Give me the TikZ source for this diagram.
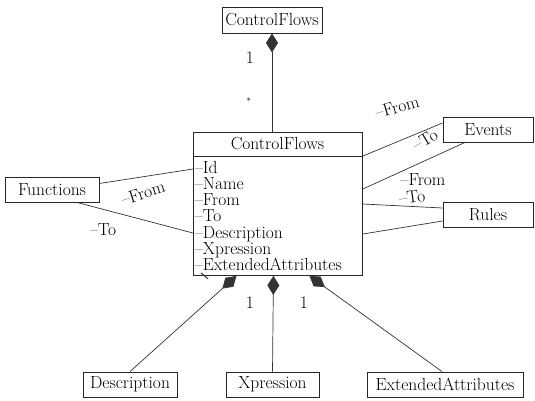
\documentclass[tikz,border=0pt]{standalone}
\usetikzlibrary{arrows.meta,calc}
\begin{document}
\begin{tikzpicture}[x=1pt,y=-1pt,
  every node/.style={font=\fontsize{17.5}{16.2}\selectfont},
  box/.style={draw=black!85,line width=0.9pt,inner sep=0pt,minimum height=25pt},
  link/.style={draw=black!80,line width=0.7pt},
  comp/.style={link,{Diamond[length=19pt,width=12pt]}-},
  lbl/.style={inner sep=0pt}]
\useasboundingbox (0,0) rectangle (535,401);

% whole / part boxes
\node[box,minimum width=100pt,minimum height=26pt] (top) at (272,20) {ControlFlows};
\node[box,minimum width=94pt] (fn) at (52,189.5) {Functions};
\node[box,minimum width=90pt] (ev) at (488,129.5) {Events};
\node[box,minimum width=90pt] (ru) at (488,214.5) {Rules};
\node[box,minimum width=94pt] (desc) at (130,384.5) {Description};
\node[box,minimum width=93pt] (xp) at (272.5,384.5) {Xpression};
\node[box,minimum width=156pt] (ea) at (445,384.5) {ExtendedAttributes};

% class with header and attribute compartment
\node[box,minimum width=169pt,minimum height=24pt] (hdr) at (277.5,144) {ControlFlows};
\node[box,anchor=north west,minimum width=169pt,minimum height=119pt,
      text width=166pt,inner xsep=1.5pt,inner ysep=1pt,align=left]
  (attr) at (193,156)
  {\textendash Id\\\textendash Name\\\textendash From\\\textendash To\\
   \textendash Description\\\textendash Xpression\\\textendash ExtendedAttributes};

% composition to the outer ControlFlows
\draw[comp] (top.south) -- (top.south |- hdr.north);
\node[lbl] (m1) at (250,58) {1};
\node[lbl,font=\small] (m2) at (249,101) {*};

% Functions
\draw[link] ($(fn.east)+(0,-6)$) -- ($(attr.north west)+(0,13)$);
\draw[link] ($(fn.south)+(25,0)$) -- ($(attr.north west)+(0,77)$);
\node[lbl,rotate=18] (fnfrom) at (143,193) {\textendash From};
\node[lbl] (fnto) at (103,230) {\textendash To};

% Events
\draw[link] ($(ev.west)+(0,-6.5)$) -- (attr.north east);
\draw[link] ($(ev.south)+(-23,0)$) -- ($(attr.north east)+(0,33)$);
\node[lbl,rotate=16] (evfrom) at (397,107) {\textendash From};
\node[lbl,rotate=31] (evto) at (425,140) {\textendash To};

% Rules
\draw[link] ($(attr.north east)+(0,48)$) -- ($(ru.west)+(0,-6.5)$);
\draw[link] ($(attr.north east)+(0,78)$) -- ($(ru.west)+(0,6.5)$);
\node[lbl] (rufrom) at (423,180) {\textendash From};
\node[lbl,rotate=8] (ruto) at (412,197) {\textendash To};

% compositions to the parts
\draw[comp] ($(attr.south)+(-41.5,0)$) -- (desc.north);
\draw[comp] ($(attr.south)+(-4.5,0)$) -- (xp.north);
\draw[comp] ($(attr.south)+(31.5,0)$) -- ($(ea.north)+(-3,0)$);
\node[lbl] (m3) at (250,303) {1};
\node[lbl] (m4) at (304,303) {1};
\draw[link,line width=1pt] ($(attr.south west)+(8,-3)$) -- ++(7,6);
\end{tikzpicture}
\end{document}
